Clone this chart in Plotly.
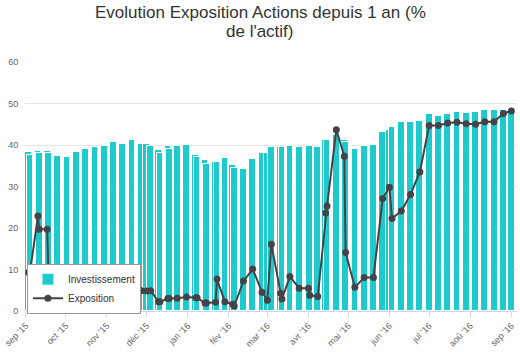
import plotly.graph_objects as go

dates = ["2015-09-03", "2015-09-04", "2015-09-10", "2015-09-11", "2015-09-17", "2015-09-18",
         "2015-09-25", "2015-10-02", "2015-10-09", "2015-10-16", "2015-10-23", "2015-10-30",
         "2015-11-06", "2015-11-13", "2015-11-20", "2015-11-27", "2015-12-01", "2015-12-04",
         "2015-12-10", "2015-12-11", "2015-12-17", "2015-12-18", "2015-12-24", "2015-12-31",
         "2016-01-07", "2016-01-08", "2016-01-14", "2016-01-15", "2016-01-22", "2016-01-23",
         "2016-01-29", "2016-02-04", "2016-02-05", "2016-02-12", "2016-02-19", "2016-02-26",
         "2016-03-01", "2016-03-04", "2016-03-11", "2016-03-12", "2016-03-18", "2016-03-25",
         "2016-04-01", "2016-04-02", "2016-04-08", "2016-04-14", "2016-04-15", "2016-04-22",
         "2016-04-28", "2016-04-29", "2016-05-06", "2016-05-13", "2016-05-20", "2016-05-27",
         "2016-06-01", "2016-06-03", "2016-06-10", "2016-06-17", "2016-06-24", "2016-07-01",
         "2016-07-08", "2016-07-15", "2016-07-22", "2016-07-29", "2016-08-05", "2016-08-12",
         "2016-08-19", "2016-08-26", "2016-09-01"]

investissement = [38.3, 37.6, 38.5, 38.1, 38.5, 38.1,
                  37.4, 37.1, 38.4, 39.0, 39.6, 39.8,
                  40.8, 40.3, 41.2, 40.3, 40.3, 39.7,
                  38.9, 38.1, 39.7, 39.1, 39.7, 39.9,
                  37.5, 37.1, 36.5, 35.5, 36.0, 36.0,
                  36.9, 35.3, 34.4, 34.2, 36.6, 38.1,
                  38.0, 39.5, 39.5, 39.5, 39.7, 39.5,
                  39.7, 39.7, 39.6, 41.1, 41.1, 42.4,
                  41.3, 40.7, 39.1, 39.7, 40.0, 43.1,
                  43.7, 44.3, 45.5, 45.6, 45.9, 47.5,
                  47.1, 47.5, 47.9, 47.6, 47.9, 48.4,
                  48.4, 48.4, 48.7]

exposition = [9.3, 9.3, 22.9, 19.7, 19.7, 8.0,
              8.5, 8.0, 9.8, 7.5, 7.0, 7.5,
              6.5, 6.5, 6.1, 4.9, 4.8, 4.9,
              2.2, 2.2, 3.0, 3.0, 3.1, 3.4,
              3.2, 3.2, 1.9, 1.9, 2.1, 7.7,
              2.2, 1.6, 1.2, 7.2, 10.1, 4.5,
              2.6, 16.1, 4.3, 2.9, 8.3, 5.5,
              5.5, 3.8, 3.5, 23.6, 25.3, 43.7,
              37.3, 14.1, 5.7, 8.1, 8.1, 27.1,
              29.8, 22.3, 24.1, 28.1, 33.5, 44.7,
              44.7, 45.3, 45.5, 45.1, 45.0, 45.6,
              45.6, 47.6, 48.2]

tick_vals = ["2015-09-01", "2015-10-01", "2015-11-01", "2015-12-01", "2016-01-01", "2016-02-01",
             "2016-03-01", "2016-04-01", "2016-05-01", "2016-06-01", "2016-07-01", "2016-08-01",
             "2016-09-01"]
tick_text = ["sep '15", "oct '15", "nov '15", "déc '15", "jan '16", "fév '16", "mar '16",
             "avr '16", "mai '16", "jun '16", "jul '16", "aoû '16", "sep '16"]

title_lines = ["Evolution Exposition Actions depuis 1 an (%", "de l'actif)"]

BAR_DAYS = 5.1
bar_width_ms = BAR_DAYS * 86400000

FONT = "Liberation Sans, Arial, sans-serif"

fig = go.Figure()
fig.add_trace(go.Bar(
    x=dates, y=investissement, name="Investissement",
    width=[bar_width_ms] * len(dates),
    marker=dict(color="#1ECACB", line=dict(color="#ffffff", width=1)),
))
fig.add_trace(go.Scatter(
    x=dates, y=exposition, name="Exposition", mode="lines+markers",
    line=dict(color="#434348", width=2),
    marker=dict(color="#434348", size=7),
))

PLOT_TOP, PLOT_H, PLOT_L, PLOT_W = 62, 251, 25, 492
for txt, py in zip(title_lines, [12.0, 31.5]):
    fig.add_annotation(
        text=txt, xref="paper", yref="paper", x=(260 - PLOT_L) / PLOT_W, xanchor="center",
        y=1 + (PLOT_TOP - py) / PLOT_H, yanchor="middle", showarrow=False,
        font=dict(size=17, color="#333333", family=FONT),
    )

fig.update_layout(
    width=520, height=352,
    margin=dict(l=PLOT_L, r=3, t=PLOT_TOP, b=39),
    paper_bgcolor="white", plot_bgcolor="white",
    font=dict(family=FONT, color="#666666", size=9),
    barmode="overlay",
    bargap=0,
    showlegend=True,
    legend=dict(x=0.004, y=0.19, xanchor="left", yanchor="top",
                bgcolor="white", bordercolor="#999999", borderwidth=1,
                font=dict(size=10, color="#333333", family=FONT),
                tracegroupgap=0, itemwidth=30),
    xaxis=dict(
        type="date",
        range=["2015-08-31 06:00", "2016-09-05 06:00"],
        tickvals=tick_vals, ticktext=tick_text, tickangle=-45,
        ticks="outside", ticklen=5, tickcolor="#ccd6eb",
        showline=True, linecolor="#ccd6eb", linewidth=1,
        showgrid=False, zeroline=False,
        tickfont=dict(size=9, color="#666666"),
    ),
    yaxis=dict(
        range=[0, 60], dtick=10, tick0=0,
        showgrid=True, gridcolor="#e6e6e6", gridwidth=1,
        zeroline=False, showline=False,
        tickfont=dict(size=9, color="#666666"),
        ticklen=4, ticks="outside", tickcolor="white",
    ),
)

fig.write_html("out.html")
